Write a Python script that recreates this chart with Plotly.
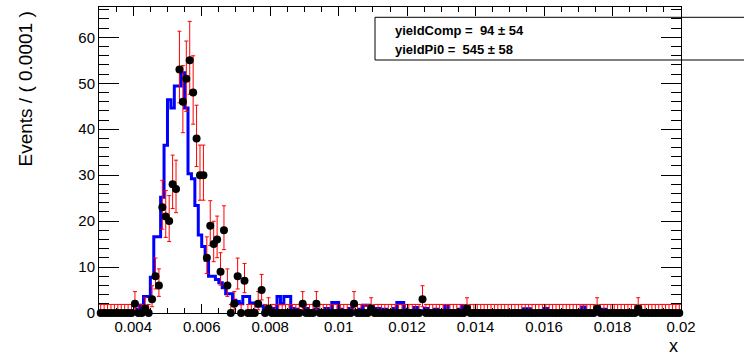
import plotly.graph_objects as go

# ---------------- data ----------------
x_min = 0.003
x_max = 0.02
bin_width = 0.0001
n_bins = 170

# observed counts per bin (bin i covers [0.003 + i*0.0001, 0.003 + (i+1)*0.0001))
data_nonzero = {
    10: 2, 13: 1, 15: 3, 16: 8, 17: 6, 18: 23, 19: 21, 20: 20, 21: 28, 22: 27,
    23: 53, 24: 46, 25: 51, 26: 55, 27: 48, 28: 38, 29: 30, 30: 30, 31: 12,
    32: 19, 33: 15, 34: 16, 35: 9, 36: 18, 37: 6, 39: 2, 40: 8, 42: 7, 46: 2,
    47: 5, 49: 1, 59: 2, 63: 2, 74: 2, 79: 1, 94: 3, 107: 1, 145: 1, 157: 1,
}
data_counts = [data_nonzero.get(i, 0) for i in range(n_bins)]

# fitted (blue) histogram per bin
fit_values = (
    [0] * 10 +
    [0.3, 0.8, 1.7, 3.6, 3.6, 7.8, 16.6, 16.6, 25.2, 36.5,
     46.4, 44.6, 49.4, 49.4, 52.3, 44.6, 30.3, 29.2, 23.4, 17.0,
     14.5, 11.5, 8.0, 8.0, 7.3, 6.6, 5.5, 4.2, 4.2, 2.8,
     2.5, 2.0, 3.6, 3.6, 2.2, 2.2, 1.5, 1.5, 1.0, 1.0,
     0.8, 1.0, 3.6, 2.0, 3.6, 3.6, 1.0, 0.8, 0.5, 0.5,
     1.0, 0.5, 0.5, 0.8, 0.5, 0.5, 1.0, 0.5, 2.3, 2.3,
     0.8, 0.5, 0.5, 1.0, 0.5, 0.5, 0.8, 1.7, 1.7, 0.5,
     0.5, 1.0, 0.5, 0.8, 0.5, 0.5, 1.0, 2.3, 2.3, 0.8,
     0.5, 0.5, 1.2, 0.5, 0.5, 1.0, 0.5, 0.5, 0.8, 0.5,
     0.5, 1.4, 0.5, 0.3, 0.5, 0.8, 1.6, 0.5, 0.3, 0.5,
     0.3, 0.5, 0.3, 0.3, 0.5, 0.3, 0.3, 0.5, 0.3, 0.3,
     0.3, 0.5, 0.3, 0.3, 0.9, 0.9, 0.3, 0.3, 0.3, 0.5,
     1.0, 0.5, 0.3, 0.3, 0.3, 0.3, 0.5, 0.3, 0.3, 0.3,
     0.5, 1.3, 0.5, 0.3, 0.3, 0.3, 0.8, 0.8, 0.3, 0.3,
     0.5, 0.3, 0.3, 0.3, 0.5, 0.3, 0.3, 0.3, 0.5, 0.3,
     0.3, 0.3, 0.5, 0.3, 0.3, 0.3, 0.5, 0.3, 0.3, 0.3]
)

x_tick_vals = [0.004, 0.006, 0.008, 0.01, 0.012, 0.014, 0.016, 0.018, 0.02]
x_tick_text = ["0.004", "0.006", "0.008", "0.01", "0.012", "0.014", "0.016", "0.018", "0.02"]
y_tick_vals = [0, 10, 20, 30, 40, 50, 60]

legend_lines = ["yieldComp =\u00a0\u00a094 \u00b1 54", "yieldPi0 =\u00a0\u00a0545 \u00b1 58"]
y_title = "Events / ( 0.0001 )"
x_title = "x"

# ---------------- derived ----------------
edges = [x_min + i * bin_width for i in range(n_bins + 1)]
centers = [x_min + (i + 0.5) * bin_width for i in range(n_bins)]


def err_up(n):
    return 1.0 + (n + 0.75) ** 0.5


def err_lo(n):
    return 0.0 if n == 0 else n ** 0.5 - 0.17 / n ** 0.5


up = [err_up(n) for n in data_counts]
lo = [err_lo(n) for n in data_counts]

FONT = "Liberation Sans, Arial, Helvetica, sans-serif"

fig = go.Figure()
fig.add_trace(go.Scatter(
    x=edges, y=fit_values + [fit_values[-1]],
    mode="lines", line=dict(shape="hv", color="#0000ff", width=3),
    hoverinfo="skip", showlegend=False,
))
fig.add_trace(go.Scatter(
    x=centers, y=data_counts, mode="markers",
    marker=dict(color="black", size=8),
    error_y=dict(type="data", array=up, arrayminus=lo, symmetric=False,
                 color="#ff0000", thickness=1, width=2),
    cliponaxis=False, showlegend=False,
))

L, R, T, B = 99, 63, 7, 47
W, H = 744, 360
pw, ph = W - L - R, H - T - B


def px(xpix):
    return (xpix - L) / pw


def py(ypix):
    return (H - B - ypix) / ph


fig.update_layout(
    width=W, height=H,
    margin=dict(l=L, r=R, t=T, b=B, pad=0),
    paper_bgcolor="white", plot_bgcolor="white",
    font=dict(family=FONT, color="black", size=15),
    xaxis=dict(
        range=[x_min, x_max], tickmode="array", tickvals=x_tick_vals, ticktext=x_tick_text,
        ticks="inside", ticklen=9, tickcolor="black", tickwidth=1,
        minor=dict(dtick=0.0005, tick0=0.003, ticks="inside", ticklen=5, tickcolor="black"),
        showline=True, linecolor="black", linewidth=1, mirror="ticks",
        showgrid=False, zeroline=False, tickfont=dict(size=15, family=FONT),
    ),
    yaxis=dict(
        range=[0, 66.6], tickmode="array", tickvals=y_tick_vals,
        ticks="inside", ticklen=20, tickcolor="black", tickwidth=1,
        minor=dict(dtick=2, tick0=0, ticks="inside", ticklen=10, tickcolor="black"),
        showline=True, linecolor="black", linewidth=1, mirror="ticks",
        showgrid=False, zeroline=False, tickfont=dict(size=15, family=FONT),
    ),
    shapes=[dict(type="rect", xref="paper", yref="paper",
                 x0=px(375), x1=px(760), y0=py(60), y1=py(17.3),
                 line=dict(color="black", width=1), fillcolor="rgba(0,0,0,0)")],
    annotations=[
        dict(text=legend_lines[0], xref="paper", yref="paper", x=px(393), y=py(30.7),
             xanchor="left", yanchor="middle", showarrow=False,
             font=dict(size=13, family=FONT, weight="bold")),
        dict(text=legend_lines[1], xref="paper", yref="paper", x=px(393), y=py(50),
             xanchor="left", yanchor="middle", showarrow=False,
             font=dict(size=13, family=FONT, weight="bold")),
        dict(text=y_title, xref="paper", yref="paper", x=px(25), y=py(10),
             xanchor="center", yanchor="top", textangle=-90, showarrow=False,
             font=dict(size=19, family=FONT)),
        dict(text=x_title, xref="paper", yref="paper", x=px(673), y=py(346),
             xanchor="center", yanchor="middle", showarrow=False,
             font=dict(size=18, family=FONT)),
    ],
)

fig.write_html("out.html", config={"displayModeBar": False})
